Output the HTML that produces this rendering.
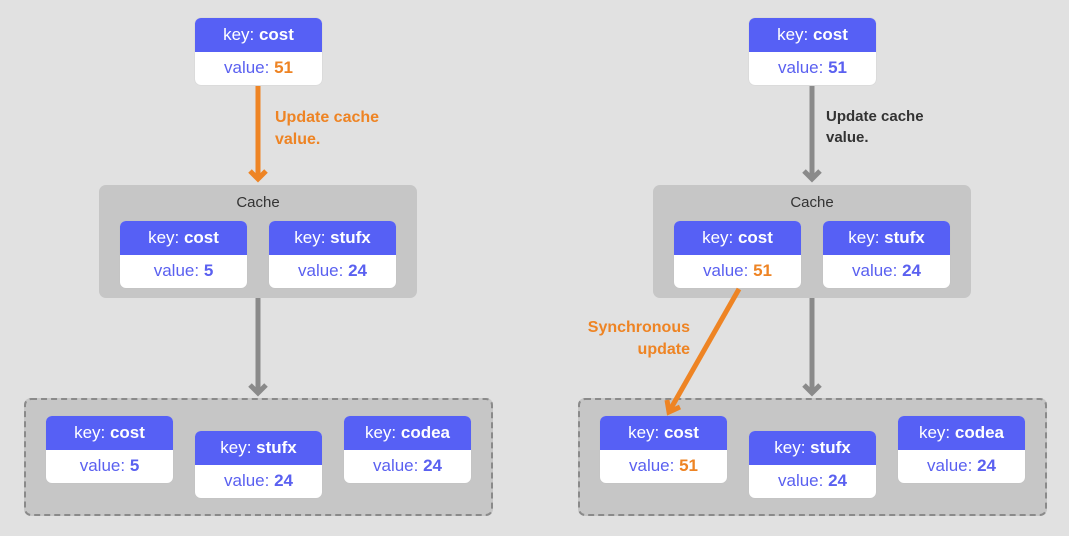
<!DOCTYPE html>
<html><head><style>
body{margin:0;width:1069px;height:536px;background:#e1e1e1;position:relative;overflow:hidden;font-family:"Liberation Sans",sans-serif}
.n{position:absolute;width:127px;height:67px;border-radius:6px;overflow:hidden;background:#fff;box-shadow:0 0 1px #bbb}
.n .k{height:34px;background:#5660f5;color:#fff;font-size:17px;line-height:34px;text-align:center}
.n .v{height:33px;color:#5a60f0;font-size:17px;line-height:32px;text-align:center}
b{font-weight:bold}.o{color:#ee8424}
.c{position:absolute;background:#c6c6c6;border-radius:7px}
.d{position:absolute;background:#c6c6c6;border:2px dashed #8a8a8a;border-radius:7px;box-sizing:border-box}
.t{position:absolute;font-size:15px;color:#333;text-align:center}
.l{position:absolute;font-size:16px;font-weight:bold;line-height:22px}
svg{z-index:5}
</style></head><body>
<div class="c" style="left:99px;top:185px;width:318px;height:113px"></div>
<div class="t" style="left:99px;top:194px;width:318px">Cache</div>
<div class="c" style="left:653px;top:185px;width:318px;height:113px"></div>
<div class="t" style="left:653px;top:194px;width:318px">Cache</div>
<div class="d" style="left:24px;top:398px;width:469px;height:118px"></div>
<div class="d" style="left:578px;top:398px;width:469px;height:118px"></div>

<div class="n" style="left:195px;top:18px"><div class="k">key: <b>cost</b></div><div class="v">value: <b class="o">51</b></div></div>
<div class="n" style="left:120px;top:221px"><div class="k">key: <b>cost</b></div><div class="v">value: <b>5</b></div></div>
<div class="n" style="left:269px;top:221px"><div class="k">key: <b>stufx</b></div><div class="v">value: <b>24</b></div></div>
<div class="n" style="left:46px;top:416px"><div class="k">key: <b>cost</b></div><div class="v">value: <b>5</b></div></div>
<div class="n" style="left:195px;top:431px"><div class="k">key: <b>stufx</b></div><div class="v">value: <b>24</b></div></div>
<div class="n" style="left:344px;top:416px"><div class="k">key: <b>codea</b></div><div class="v">value: <b>24</b></div></div>

<div class="n" style="left:749px;top:18px"><div class="k">key: <b>cost</b></div><div class="v">value: <b>51</b></div></div>
<div class="n" style="left:674px;top:221px"><div class="k">key: <b>cost</b></div><div class="v">value: <b class="o">51</b></div></div>
<div class="n" style="left:823px;top:221px"><div class="k">key: <b>stufx</b></div><div class="v">value: <b>24</b></div></div>
<div class="n" style="left:600px;top:416px"><div class="k">key: <b>cost</b></div><div class="v">value: <b class="o">51</b></div></div>
<div class="n" style="left:749px;top:431px"><div class="k">key: <b>stufx</b></div><div class="v">value: <b>24</b></div></div>
<div class="n" style="left:898px;top:416px"><div class="k">key: <b>codea</b></div><div class="v">value: <b>24</b></div></div>

<svg width="1069" height="536" style="position:absolute;left:0;top:0">
<g stroke-width="5" fill="none">
<line x1="258" y1="86" x2="258" y2="178" stroke="#ee8424"/>
<polyline points="250,171 258,179 266,171" stroke="#ee8424"/>
<line x1="258" y1="298" x2="258" y2="392" stroke="#8a8a8a"/>
<polyline points="250,385 258,393 266,385" stroke="#8a8a8a"/>
<line x1="812" y1="86" x2="812" y2="178" stroke="#8a8a8a"/>
<polyline points="804,171 812,179 820,171" stroke="#8a8a8a"/>
<line x1="812" y1="298" x2="812" y2="392" stroke="#8a8a8a"/>
<polyline points="804,385 812,393 820,385" stroke="#8a8a8a"/>
<line x1="739" y1="289" x2="670" y2="410" stroke="#ee8424"/>
<polyline points="667,400 669,412 680,407" stroke="#ee8424"/>
</g></svg>

<div class="l" style="left:275px;top:107px;color:#ee8424">Update cache<br>value.</div>
<div class="l" style="left:826px;top:106px;color:#333;font-size:15px;line-height:21px">Update cache<br>value.</div>
<div class="l" style="left:560px;top:317px;width:130px;text-align:right;color:#ee8424">Synchronous<br>update</div>
</body></html>
